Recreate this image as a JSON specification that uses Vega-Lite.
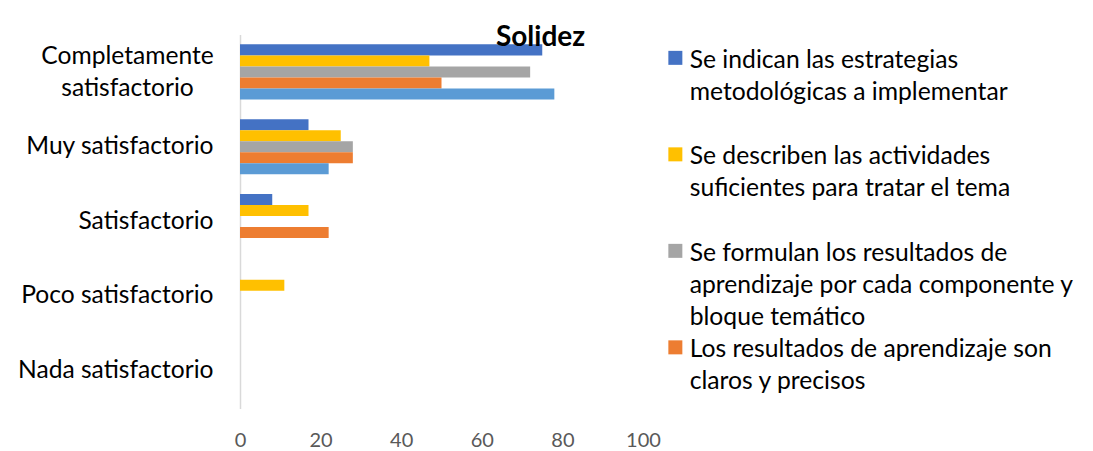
{
  "$schema": "https://vega.github.io/schema/vega-lite/v6.json",
  "width": 403,
  "height": 374,
  "autosize": {"type": "none"},
  "padding": {"left": 240, "top": 34.5, "right": 450, "bottom": 42.5},
  "background": "white",
  "title": {"text": "Solidez", "font": "Lato", "fontSize": 28, "fontWeight": "bold", "color": "#000000", "anchor": "middle", "frame": "group", "offset": -17, "dx": 99},
  "data": {
    "values": [
      {"nivel": "Completamente satisfactorio", "criterio": "Se indican las estrategias metodológicas a implementar", "valor": 75},
      {"nivel": "Completamente satisfactorio", "criterio": "Se describen las actividades suficientes para tratar el tema", "valor": 47},
      {"nivel": "Completamente satisfactorio", "criterio": "Se formulan los resultados de aprendizaje por cada componente y bloque temático", "valor": 72},
      {"nivel": "Completamente satisfactorio", "criterio": "Los resultados de aprendizaje son claros y precisos", "valor": 50},
      {"nivel": "Completamente satisfactorio", "criterio": "Serie 5", "valor": 78},
      {"nivel": "Muy satisfactorio", "criterio": "Se indican las estrategias metodológicas a implementar", "valor": 17},
      {"nivel": "Muy satisfactorio", "criterio": "Se describen las actividades suficientes para tratar el tema", "valor": 25},
      {"nivel": "Muy satisfactorio", "criterio": "Se formulan los resultados de aprendizaje por cada componente y bloque temático", "valor": 28},
      {"nivel": "Muy satisfactorio", "criterio": "Los resultados de aprendizaje son claros y precisos", "valor": 28},
      {"nivel": "Muy satisfactorio", "criterio": "Serie 5", "valor": 22},
      {"nivel": "Satisfactorio", "criterio": "Se indican las estrategias metodológicas a implementar", "valor": 8},
      {"nivel": "Satisfactorio", "criterio": "Se describen las actividades suficientes para tratar el tema", "valor": 17},
      {"nivel": "Satisfactorio", "criterio": "Se formulan los resultados de aprendizaje por cada componente y bloque temático", "valor": 0},
      {"nivel": "Satisfactorio", "criterio": "Los resultados de aprendizaje son claros y precisos", "valor": 22},
      {"nivel": "Satisfactorio", "criterio": "Serie 5", "valor": 0},
      {"nivel": "Poco satisfactorio", "criterio": "Se indican las estrategias metodológicas a implementar", "valor": 0},
      {"nivel": "Poco satisfactorio", "criterio": "Se describen las actividades suficientes para tratar el tema", "valor": 11},
      {"nivel": "Poco satisfactorio", "criterio": "Se formulan los resultados de aprendizaje por cada componente y bloque temático", "valor": 0},
      {"nivel": "Poco satisfactorio", "criterio": "Los resultados de aprendizaje son claros y precisos", "valor": 0},
      {"nivel": "Poco satisfactorio", "criterio": "Serie 5", "valor": 0},
      {"nivel": "Nada satisfactorio", "criterio": "Se indican las estrategias metodológicas a implementar", "valor": 0},
      {"nivel": "Nada satisfactorio", "criterio": "Se describen las actividades suficientes para tratar el tema", "valor": 0},
      {"nivel": "Nada satisfactorio", "criterio": "Se formulan los resultados de aprendizaje por cada componente y bloque temático", "valor": 0},
      {"nivel": "Nada satisfactorio", "criterio": "Los resultados de aprendizaje son claros y precisos", "valor": 0},
      {"nivel": "Nada satisfactorio", "criterio": "Serie 5", "valor": 0}
    ]
  },
  "mark": {"type": "bar"},
  "encoding": {
    "y": {
      "field": "nivel",
      "type": "nominal",
      "sort": ["Completamente satisfactorio", "Muy satisfactorio", "Satisfactorio", "Poco satisfactorio", "Nada satisfactorio"],
      "scale": {"paddingInner": 0.264, "paddingOuter": 0.132},
      "axis": {
        "title": null,
        "domain": true,
        "domainColor": "#D9D9D9",
        "domainWidth": 1.5,
        "ticks": false,
        "tickSize": 0,
        "grid": false,
        "labelFont": "Lato",
        "labelFontSize": 24.6,
        "labelColor": "#000000",
        "labelLimit": 400,
        "labelLineHeight": 32,
        "labelExpr": "datum.value == 'Completamente satisfactorio' ? ['Completamente', 'satisfactorio'] : datum.value",
        "labelAlign": {"condition": {"test": "datum.value == 'Completamente satisfactorio'", "value": "center"}, "value": "right"},
        "labelPadding": {"condition": {"test": "datum.value == 'Completamente satisfactorio'", "value": 113}, "value": 27},
        "labelOffset": {"condition": {"test": "datum.value == 'Completamente satisfactorio'", "value": -15}, "value": 0}
      }
    },
    "yOffset": {
      "field": "criterio",
      "type": "nominal",
      "sort": ["Se indican las estrategias metodológicas a implementar", "Se describen las actividades suficientes para tratar el tema", "Se formulan los resultados de aprendizaje por cada componente y bloque temático", "Los resultados de aprendizaje son claros y precisos", "Serie 5"],
      "scale": {"paddingInner": 0, "paddingOuter": 0}
    },
    "x": {
      "field": "valor",
      "type": "quantitative",
      "scale": {"domain": [0, 100], "nice": false},
      "axis": {
        "title": null,
        "values": [0, 20, 40, 60, 80, 100],
        "domain": false,
        "ticks": false,
        "tickSize": 0,
        "grid": false,
        "labelFlush": false,
        "labelFont": "Lato",
        "labelFontSize": 20,
        "labelColor": "#595959",
        "labelPadding": 22
      }
    },
    "color": {
      "field": "criterio",
      "type": "nominal",
      "scale": {
        "domain": ["Se indican las estrategias metodológicas a implementar", "Se describen las actividades suficientes para tratar el tema", "Se formulan los resultados de aprendizaje por cada componente y bloque temático", "Los resultados de aprendizaje son claros y precisos", "Serie 5"],
        "range": ["#4472C4", "#FFC000", "#A5A5A5", "#ED7D31", "#5B9BD5"]
      },
      "legend": {
        "title": null,
        "orient": "right",
        "offset": 9,
        "padding": 11,
        "values": ["Se indican las estrategias metodológicas a implementar", "Se describen las actividades suficientes para tratar el tema", "Se formulan los resultados de aprendizaje por cada componente y bloque temático", "Los resultados de aprendizaje son claros y precisos"],
        "symbolType": "square",
        "symbolSize": 196,
        "symbolStrokeWidth": 0,
        "labelFont": "Lato",
        "labelFontSize": 24.7,
        "labelColor": "#000000",
        "labelLimit": 1000,
        "labelOffset": 2,
        "labelBaseline": "top",
        "rowPadding": 4.5,
        "labelExpr": "datum.label == 'Se indican las estrategias metodológicas a implementar' ? ['Se indican las estrategias', 'metodológicas a implementar', ''] : datum.label == 'Se describen las actividades suficientes para tratar el tema' ? ['Se describen las actividades', 'suficientes para tratar el tema', ''] : datum.label == 'Se formulan los resultados de aprendizaje por cada componente y bloque temático' ? ['Se formulan los resultados de', 'aprendizaje por cada componente y', 'bloque temático'] : ['Los resultados de aprendizaje son', 'claros y precisos', '']",
        "encode": {"labels": {"update": {"dy": {"value": -10}, "lineHeight": {"value": 32}}}}
      }
    }
  },
  "config": {"view": {"stroke": null}}
}
